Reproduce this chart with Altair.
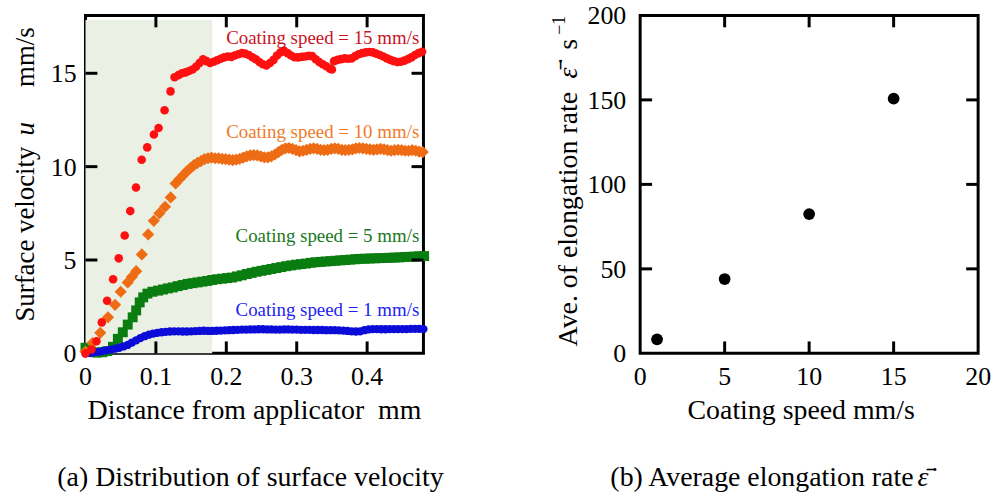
import altair as alt
import pandas as pd

FONT = "Liberation Serif"

# ---------------- panel (a): surface velocity ----------------
red_x = [0.000, 0.0085, 0.0156, 0.0232, 0.0307, 0.0392, 0.0472, 0.0557, 0.0636, 0.0717, 0.0798,
         0.0877, 0.0972, 0.1038, 0.1123, 0.1208, 0.1265,
         0.132, 0.137, 0.142, 0.147, 0.152, 0.157, 0.162, 0.167, 0.172, 0.177, 0.182, 0.187,
         0.192, 0.197, 0.202, 0.207, 0.212, 0.217, 0.222, 0.227, 0.232, 0.237, 0.242, 0.247,
         0.252, 0.257, 0.262, 0.267, 0.272, 0.277, 0.282, 0.287, 0.292, 0.297, 0.302, 0.307,
         0.312, 0.317, 0.322, 0.327, 0.332, 0.337, 0.342, 0.347, 0.350, 0.353, 0.358, 0.363,
         0.368, 0.373, 0.378, 0.383, 0.388, 0.393, 0.398, 0.403, 0.408, 0.413, 0.418, 0.423,
         0.428, 0.433, 0.438, 0.443, 0.448, 0.453, 0.458, 0.463, 0.468, 0.473, 0.478]
red_u = [0.00, 0.21, 0.65, 1.66, 2.82, 3.97, 5.09, 6.31, 7.62, 8.88, 10.37,
         11.03, 11.72, 12.07, 13.02, 14.03, 14.79,
         14.90, 15.00, 15.05, 15.12, 15.20, 15.35, 15.55, 15.75, 15.65, 15.55, 15.62, 15.70,
         15.78, 15.85, 15.90, 15.88, 15.95, 16.02, 16.08, 16.05, 15.98, 15.86, 15.75, 15.60,
         15.48, 15.42, 15.55, 15.72, 15.95, 16.12, 16.20, 16.08, 15.95, 15.86, 15.85, 15.88,
         15.90, 15.93, 15.92, 15.75, 15.60, 15.48, 15.38, 15.25, 15.20, 15.65, 15.72, 15.76,
         15.80, 15.78, 15.80, 15.92, 16.02, 16.08, 16.12, 16.14, 16.12, 16.05, 15.98, 15.90,
         15.80, 15.72, 15.65, 15.60, 15.62, 15.68, 15.76, 15.85, 15.98, 16.08, 16.15]

orange_x = [0.000, 0.010, 0.021, 0.032, 0.042, 0.050, 0.060, 0.066, 0.072, 0.080, 0.089, 0.097,
            0.105, 0.113, 0.121, 0.128,
            0.134, 0.139, 0.144, 0.149, 0.154, 0.159, 0.164, 0.169, 0.174, 0.179, 0.184, 0.189,
            0.194, 0.199, 0.204, 0.209, 0.214, 0.219, 0.224, 0.229, 0.234, 0.239, 0.244, 0.249,
            0.254, 0.259, 0.264, 0.269, 0.274, 0.279, 0.284, 0.289, 0.294, 0.299, 0.304, 0.309,
            0.314, 0.319, 0.324, 0.329, 0.334, 0.339, 0.344, 0.349, 0.354, 0.359, 0.364, 0.369,
            0.374, 0.379, 0.384, 0.389, 0.394, 0.399, 0.404, 0.409, 0.414, 0.419, 0.424, 0.429,
            0.434, 0.439, 0.444, 0.449, 0.454, 0.459, 0.464, 0.469, 0.474, 0.479]
orange_u = [0.10, 0.55, 1.10, 1.93, 2.60, 3.30, 3.80, 4.10, 4.40, 5.30, 6.37, 7.10,
            7.50, 7.85, 8.35, 9.10,
            9.35, 9.55, 9.75, 9.92, 10.08, 10.20, 10.30, 10.40, 10.45, 10.48, 10.45, 10.45,
            10.42, 10.40, 10.38, 10.35, 10.38, 10.42, 10.48, 10.55, 10.60, 10.62, 10.60, 10.55,
            10.50, 10.50, 10.55, 10.65, 10.78, 10.90, 10.98, 11.00, 10.95, 10.88, 10.82, 10.85,
            10.90, 10.95, 10.98, 10.95, 10.90, 10.88, 10.90, 10.95, 10.98, 10.95, 10.90, 10.88,
            10.90, 10.92, 10.98, 11.00, 10.98, 10.95, 10.92, 10.90, 10.92, 10.95, 10.92, 10.88,
            10.85, 10.88, 10.90, 10.88, 10.85, 10.85, 10.88, 10.85, 10.80, 10.78]

green_x = [0.000, 0.008, 0.016, 0.024, 0.031, 0.039, 0.046, 0.053, 0.060, 0.067, 0.072, 0.077,
           0.082, 0.088, 0.095, 0.103, 0.110, 0.117, 0.124, 0.131, 0.138, 0.145, 0.152, 0.159,
           0.166, 0.173, 0.180, 0.187, 0.194, 0.201, 0.208, 0.215, 0.222, 0.229, 0.236, 0.243,
           0.250, 0.257, 0.264, 0.271, 0.278, 0.285, 0.292, 0.299, 0.306, 0.313, 0.320, 0.327,
           0.334, 0.341, 0.348, 0.355, 0.362, 0.369, 0.376, 0.383, 0.390, 0.397, 0.404, 0.411,
           0.418, 0.425, 0.432, 0.439, 0.446, 0.453, 0.460, 0.467, 0.474, 0.481]
green_u = [0.30, 0.08, 0.04, 0.06, 0.12, 0.35, 0.78, 1.13, 1.54, 1.93, 2.30, 2.73,
           3.00, 3.20, 3.30, 3.36, 3.42, 3.48, 3.53, 3.60, 3.66, 3.72, 3.76, 3.80,
           3.84, 3.88, 3.93, 3.97, 4.00, 4.03, 4.06, 4.12, 4.18, 4.25, 4.31, 4.37,
           4.42, 4.47, 4.52, 4.57, 4.62, 4.67, 4.71, 4.75, 4.78, 4.81, 4.85, 4.88,
           4.90, 4.92, 4.94, 4.96, 4.98, 5.00, 5.02, 5.04, 5.06, 5.07, 5.08, 5.09,
           5.10, 5.11, 5.12, 5.13, 5.14, 5.16, 5.17, 5.18, 5.20, 5.21]

blue_x = [0.000, 0.006, 0.012, 0.018, 0.024, 0.030, 0.036, 0.042, 0.048, 0.054, 0.060, 0.066,
          0.072, 0.078, 0.084, 0.090, 0.096, 0.102, 0.108, 0.114, 0.120, 0.126, 0.132, 0.138,
          0.144, 0.150, 0.156, 0.162, 0.168, 0.174, 0.180, 0.186, 0.192, 0.198, 0.204, 0.210,
          0.216, 0.222, 0.228, 0.234, 0.240, 0.246, 0.252, 0.258, 0.264, 0.270, 0.276, 0.282,
          0.288, 0.294, 0.300, 0.306, 0.312, 0.318, 0.324, 0.330, 0.336, 0.342, 0.348, 0.354,
          0.360, 0.366, 0.372, 0.378, 0.384, 0.390, 0.396, 0.402, 0.408, 0.414, 0.420, 0.426,
          0.432, 0.438, 0.444, 0.450, 0.456, 0.462, 0.468, 0.474, 0.480]
blue_u = [0.00, 0.02, 0.05, 0.08, 0.12, 0.16, 0.20, 0.25, 0.30, 0.37, 0.45, 0.58,
          0.70, 0.82, 0.92, 1.00, 1.06, 1.10, 1.13, 1.15, 1.17, 1.18, 1.18, 1.17,
          1.17, 1.18, 1.19, 1.20, 1.21, 1.20, 1.20, 1.21, 1.22, 1.23, 1.24, 1.25,
          1.26, 1.27, 1.27, 1.28, 1.28, 1.29, 1.29, 1.28, 1.28, 1.27, 1.27, 1.28,
          1.28, 1.27, 1.27, 1.26, 1.26, 1.26, 1.25, 1.25, 1.25, 1.24, 1.24, 1.24,
          1.23, 1.22, 1.20, 1.18, 1.17, 1.18, 1.24, 1.28, 1.30, 1.30, 1.29, 1.29,
          1.30, 1.30, 1.30, 1.30, 1.30, 1.31, 1.31, 1.31, 1.30]

shade_x = [0.0, 0.18]          # shaded zone (mm)
shade_u = [0.0, 17.85]

a_xticks = [0, 0.1, 0.2, 0.3, 0.4]
a_xtick_labels = ["0", "0.1", "0.2", "0.3", "0.4"]
a_yticks = [0, 5, 10, 15]
a_ytick_labels = ["0", "5", "10", "15"]
a_labels = ["Coating speed = 15 mm/s", "Coating speed = 10 mm/s",
            "Coating speed = 5 mm/s", "Coating speed = 1 mm/s"]
a_label_x = [0.474, 0.474, 0.474, 0.474]
a_label_u = [16.56, 11.55, 5.96, 2.02]
a_label_colors = ["#C8141E", "#F07A2A", "#18781C", "#2222F2"]

# ---------------- panel (b): average elongation rate ----------------
speed = [1, 5, 10, 15]
rate = [8.3, 44.0, 82.4, 150.8]
b_xticks = [0, 5, 10, 15, 20]
b_xtick_labels = ["0", "5", "10", "15", "20"]
b_yticks = [0, 50, 100, 150, 200]
b_ytick_labels = ["0", "50", "100", "150", "200"]

W, H = 340, 340
TICK = 12
LABEL_SIZE = 26


def txt(s, x, y, size=28, angle=0, align="center", baseline="alphabetic",
        color="black", style="normal"):
    kw = dict(text=s, font=FONT, fontSize=size, align=align, baseline=baseline,
              color=color, fontStyle=style)
    if angle:
        kw["angle"] = angle
    return alt.Chart(pd.DataFrame({"k": [0]})).mark_text(**kw).encode(
        x=alt.value(x), y=alt.value(y))


def frame_guides(xvals, xlabels, yvals, ylabels, xs, ys, ypad):
    dx = pd.DataFrame({"x": xvals, "t": xlabels})
    dy = pd.DataFrame({"y": yvals, "t": ylabels})
    r = dict(color="black", strokeWidth=3)
    xe = alt.X("x:Q", scale=xs, axis=None)
    ye = alt.Y("y:Q", scale=ys, axis=None)
    dxi = dx.iloc[1:-1] if xvals[-1] == xs.domain[1] else dx.iloc[1:]
    dyi = dy.iloc[1:-1] if yvals[-1] == ys.domain[1] else dy.iloc[1:]
    return [
        alt.Chart(dxi).mark_rule(**r).encode(x=xe, y=alt.value(H), y2=alt.value(H - TICK)),
        alt.Chart(dxi).mark_rule(**r).encode(x=xe, y=alt.value(0), y2=alt.value(TICK)),
        alt.Chart(dyi).mark_rule(**r).encode(y=ye, x=alt.value(0), x2=alt.value(TICK)),
        alt.Chart(dyi).mark_rule(**r).encode(y=ye, x=alt.value(W - TICK), x2=alt.value(W)),
        alt.Chart(dx).mark_text(font=FONT, fontSize=LABEL_SIZE, align="center",
                                baseline="alphabetic", color="black").encode(
            x=xe, y=alt.value(H + 32), text="t:N"),
        alt.Chart(dy).mark_text(font=FONT, fontSize=LABEL_SIZE, align="right",
                                baseline="middle", color="black", dy=1).encode(
            y=ye, x=alt.value(-ypad), text="t:N"),
    ]


# ----- panel (a) layers -----
xs_a = alt.Scale(domain=[0, 0.48], nice=False, zero=False)
ys_a = alt.Scale(domain=[0, 18.1], nice=False, zero=False)

shade = alt.Chart(pd.DataFrame({"x": [shade_x[0]], "x2": [shade_x[1]],
                                "u": [shade_u[0]], "u2": [shade_u[1]]})).mark_rect(
    color="#EBF0E4").encode(
    x=alt.X("x:Q", scale=xs_a, axis=None),
    x2="x2:Q",
    y=alt.Y("u:Q", scale=ys_a, axis=None),
    y2="u2:Q")


def series(xv, uv, shape, size, color):
    return alt.Chart(pd.DataFrame({"x": xv, "u": uv})).mark_point(
        shape=shape, filled=True, size=size, color=color, opacity=1, strokeWidth=0).encode(
        x=alt.X("x:Q", scale=xs_a, axis=None),
        y=alt.Y("u:Q", scale=ys_a, axis=None))


green = series(green_x, green_u, "square", 100, "#0A7D10")
blue = series(blue_x, blue_u, "circle", 70, "#0C0CD8")
orange = series(orange_x, orange_u, "diamond", 150, "#EE6C14")
red = series(red_x, red_u, "circle", 75, "#FF1010")

ann = alt.Chart(pd.DataFrame({"x": a_label_x, "u": a_label_u, "t": a_labels})).mark_text(
    align="right", baseline="alphabetic", font=FONT, fontSize=19).encode(
    x=alt.X("x:Q", scale=xs_a, axis=None),
    y=alt.Y("u:Q", scale=ys_a, axis=None),
    text="t:N",
    color=alt.Color("t:N", scale=alt.Scale(domain=a_labels, range=a_label_colors), legend=None))

a_texts = [
    txt("Surface velocity", -52, 220, size=27, angle=270),
    txt("u", -52, 114, size=27, angle=270, style="italic"),
    txt("mm/s", -52, 42, size=27, angle=270),
    txt("Distance from applicator\u00a0\u00a0mm", 170, 406),
    txt("(a) Distribution of surface velocity", 166, 473),
]

panel_a = alt.layer(shade, green, blue, orange, red, ann,
                    *frame_guides(a_xticks, a_xtick_labels, a_yticks, a_ytick_labels,
                                  xs_a, ys_a, 9),
                    *a_texts).properties(width=W, height=H)

# ----- panel (b) layers -----
xs_b = alt.Scale(domain=[0, 20], nice=False)
ys_b = alt.Scale(domain=[0, 200], nice=False)

dots = alt.Chart(pd.DataFrame({"s": speed, "r": rate})).mark_circle(
    size=140, color="black", opacity=1).encode(
    x=alt.X("s:Q", scale=xs_b, axis=None),
    y=alt.Y("r:Q", scale=ys_b, axis=None))

eps = "\u03b5\u0307\u0304"
b_texts = [
    txt("Ave. of elongation rate", -64, 205, angle=270),
    txt(eps, -64, 58, angle=270, style="italic"),
    txt("s", -64, 29, angle=270),
    txt("\u22121", -76, 10, size=18, angle=270),
    txt("Coating speed mm/s", 162, 406),
    txt("(b) Average elongation rate", 275, 473, align="right"),
    txt(eps, 279, 473, align="left", style="italic"),
]

panel_b = alt.layer(dots,
                    *frame_guides(b_xticks, b_xtick_labels, b_yticks, b_ytick_labels,
                                  xs_b, ys_b, 14),
                    *b_texts).properties(width=W, height=H)

chart = alt.hconcat(panel_a, panel_b, spacing=218, bounds="flush").properties(
    padding={"left": 10, "top": 0, "right": 5, "bottom": 0},
    background="white",
).configure_view(stroke="black", strokeWidth=3)

chart.save("out.html", embed_options={"renderer": "svg", "actions": False})
